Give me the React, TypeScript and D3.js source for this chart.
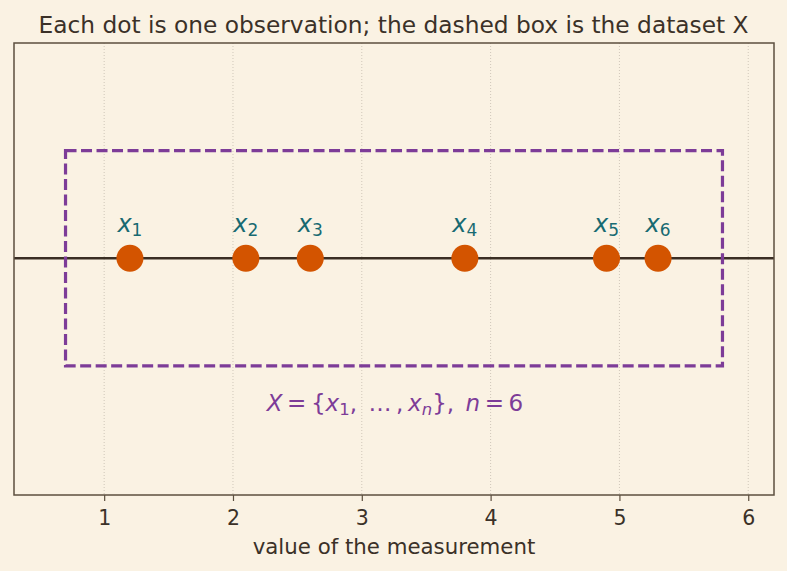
import * as d3 from "d3"
import { useEffect, useRef } from "react"

const observations = [1.2, 2.1, 2.6, 3.8, 4.9, 5.3]
const obsLabels = ["1", "2", "3", "4", "5", "6"]
const xTicks = [1, 2, 3, 4, 5, 6]
const boxPad = 0.5

const width = 787
const height = 571
const margin = { top: 43, right: 13, bottom: 76, left: 14 }

const bg = "#faf2e3"
const ink = "#3b3128"
const frame = "#5c4f3f"
const dotColour = "#d35400"
const labelColour = "#176a72"
const setColour = "#7d3c98"
const font = "DejaVu Sans, sans-serif"

const App = () => {
  const ref = useRef<SVGSVGElement>(null)

  useEffect(() => {
    document.body.style.margin = "0"
    document.body.style.overflow = "hidden"
    document.body.style.background = bg

    const svg = d3.select(ref.current)
    svg.selectAll("*").remove()

    const innerWidth = width - margin.left - margin.right
    const innerHeight = height - margin.top - margin.bottom

    const x = d3.scaleLinear().domain([0.3, 6.2]).range([0, innerWidth])
    const y = d3.scaleLinear().domain([-1.1, 1]).range([innerHeight, 0])

    svg.append("rect").attr("width", width).attr("height", height).attr("fill", bg)

    svg
      .append("text")
      .attr("x", width / 2)
      .attr("y", 32.5)
      .attr("text-anchor", "middle")
      .attr("font-family", font)
      .attr("font-size", 23.3)
      .attr("fill", ink)
      .text("Each dot is one observation; the dashed box is the dataset X")

    const g = svg
      .append("g")
      .attr("transform", `translate(${margin.left},${margin.top})`)

    // dotted vertical grid
    g.selectAll("line.grid")
      .data(xTicks)
      .enter()
      .append("line")
      .attr("class", "grid")
      .attr("x1", (d) => x(d))
      .attr("x2", (d) => x(d))
      .attr("y1", 0)
      .attr("y2", innerHeight)
      .attr("stroke", "#c4bbae")
      .attr("stroke-width", 0.8)
      .attr("stroke-dasharray", "1,2")

    // baseline the observations sit on
    g.append("line")
      .attr("x1", 0)
      .attr("x2", innerWidth)
      .attr("y1", y(0))
      .attr("y2", y(0))
      .attr("stroke", "#3a2e24")
      .attr("stroke-width", 2.5)

    // dashed box around the dataset
    const lo = d3.min(observations)! - boxPad
    const hi = d3.max(observations)! + boxPad
    g.append("rect")
      .attr("x", x(lo))
      .attr("y", y(0.5))
      .attr("width", x(hi) - x(lo))
      .attr("height", y(-0.5) - y(0.5))
      .attr("fill", "none")
      .attr("stroke", setColour)
      .attr("stroke-width", 3.2)
      .attr("stroke-dasharray", "11,4.5")

    g.selectAll("circle")
      .data(observations)
      .enter()
      .append("circle")
      .attr("cx", (d) => x(d))
      .attr("cy", y(0))
      .attr("r", 13.5)
      .attr("fill", dotColour)

    const labels = g
      .selectAll("text.obs")
      .data(observations)
      .enter()
      .append("text")
      .attr("class", "obs")
      .attr("x", (d) => x(d))
      .attr("y", y(0.12))
      .attr("text-anchor", "middle")
      .attr("font-family", font)
      .attr("fill", labelColour)
    labels
      .append("tspan")
      .attr("font-style", "italic")
      .attr("font-size", 24)
      .text("x")
    labels
      .append("tspan")
      .attr("font-size", 17)
      .attr("dy", 4)
      .text((_, i) => obsLabels[i])

    // set notation under the box
    const setText = g
      .append("text")
      .attr("x", x((lo + hi) / 2) + 1)
      .attr("y", y(-0.71))
      .attr("text-anchor", "middle")
      .attr("font-family", font)
      .attr("font-size", 23)
      .attr("fill", setColour)
    setText.append("tspan").attr("font-style", "italic").text("X")
    setText.append("tspan").text("\u2009=\u2009{")
    setText.append("tspan").attr("font-style", "italic").text("x")
    setText.append("tspan").attr("font-size", 16.5).attr("dy", 4).text("1")
    setText.append("tspan").attr("dy", -4).text(",\u2002\u2026\u2009,\u2009")
    setText.append("tspan").attr("font-style", "italic").text("x")
    setText.append("tspan").attr("font-style", "italic").attr("font-size", 16.5).attr("dy", 4).text("n")
    setText.append("tspan").attr("dy", -4).text("},\u2002")
    setText.append("tspan").attr("font-style", "italic").text("n")
    setText.append("tspan").text("\u2009=\u20096")

    g.append("rect")
      .attr("width", innerWidth)
      .attr("height", innerHeight)
      .attr("fill", "none")
      .attr("stroke", frame)
      .attr("stroke-width", 1.5)

    const xAxis = g
      .append("g")
      .attr("transform", `translate(0,${innerHeight})`)
      .call(d3.axisBottom(x).tickValues(xTicks).tickSize(6).tickPadding(9).tickFormat(d3.format("d")))
    xAxis.select(".domain").remove()
    xAxis.selectAll("line").attr("stroke", frame).attr("stroke-width", 1.2)
    xAxis
      .selectAll("text")
      .attr("font-family", font)
      .attr("font-size", 20.5)
      .attr("fill", ink)

    svg
      .append("text")
      .attr("x", margin.left + innerWidth / 2)
      .attr("y", 553.5)
      .attr("text-anchor", "middle")
      .attr("font-family", font)
      .attr("font-size", 21.3)
      .attr("fill", ink)
      .text("value of the measurement")
  }, [])

  return <svg ref={ref} width={width} height={height} style={{ display: "block" }} />
}

export default App
